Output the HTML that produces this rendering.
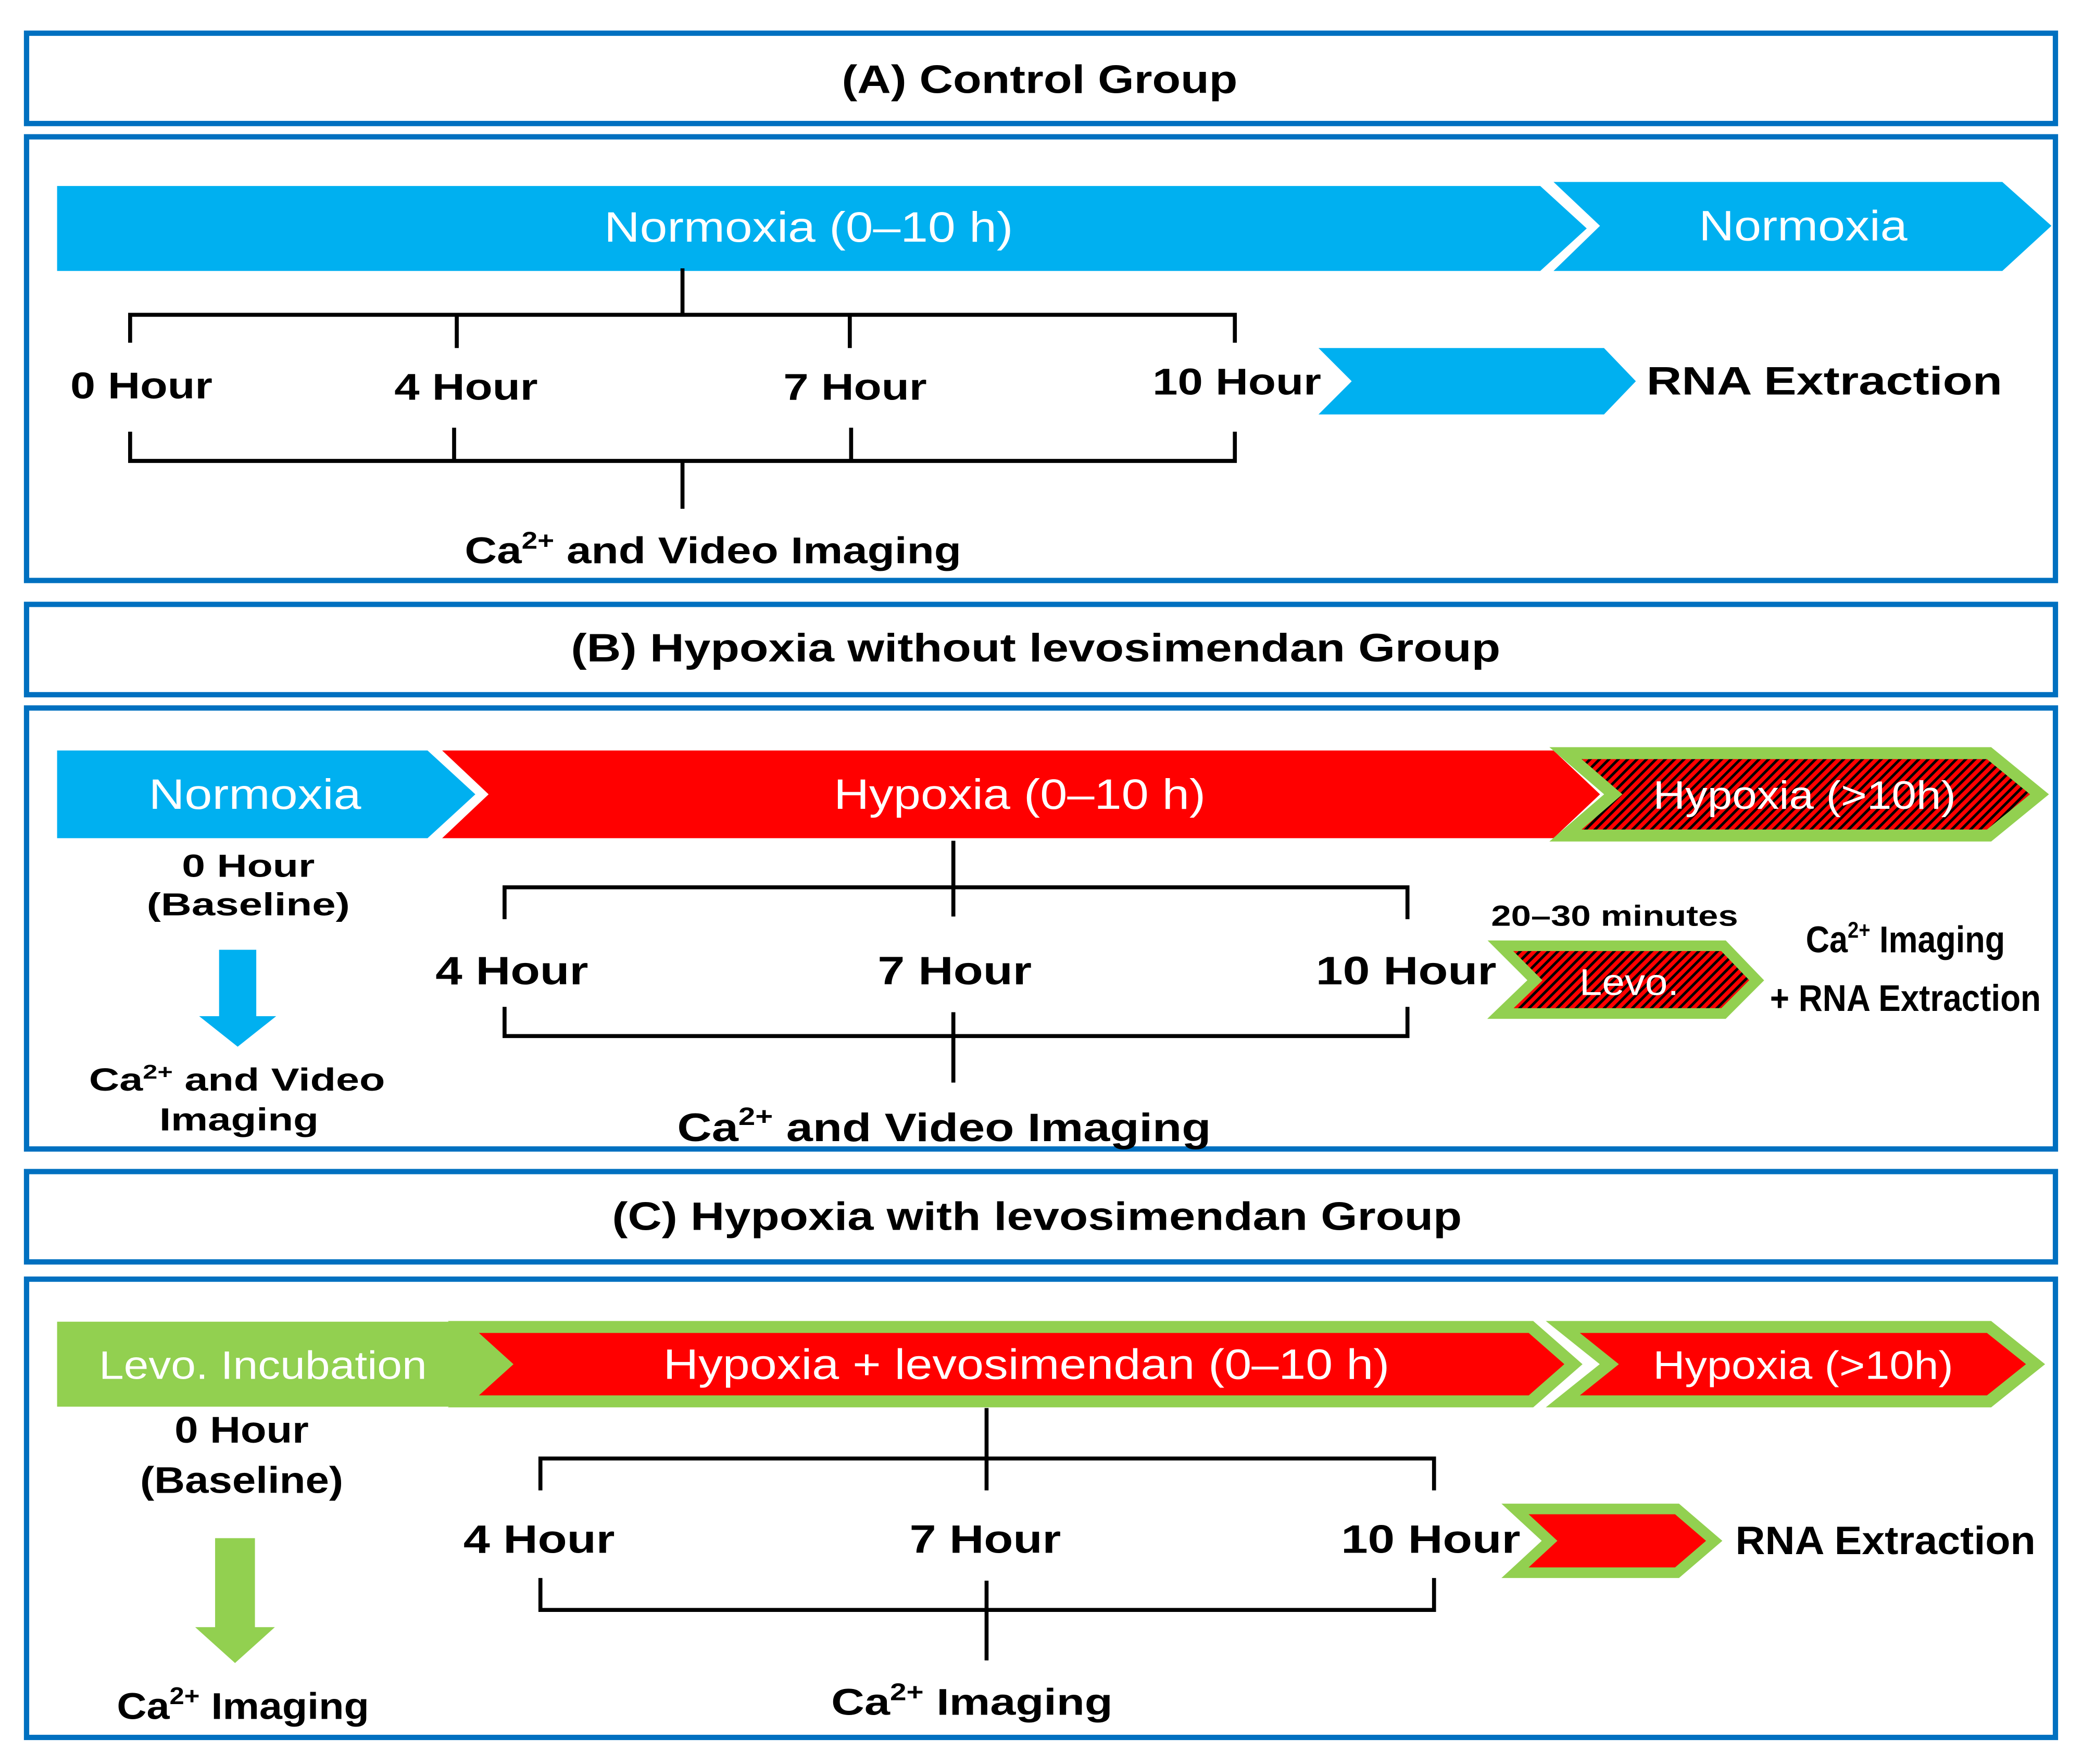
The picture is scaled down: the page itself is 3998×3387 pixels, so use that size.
<!DOCTYPE html>
<html><head><meta charset="utf-8"><style>
html,body{margin:0;padding:0;background:#fff;}
svg{display:block;}
text{font-family:"Liberation Sans",sans-serif;}
.b{font-weight:bold;fill:#000;}
.w{fill:#fff;}
</style></head><body>
<svg width="3998" height="3387" viewBox="0 0 1568 1328" preserveAspectRatio="none" xmlns="http://www.w3.org/2000/svg">
<defs>
<pattern id="h" patternUnits="userSpaceOnUse" width="5" height="5" patternTransform="rotate(45)">
<rect width="5" height="5" fill="#ff0000"/><rect width="2" height="5" fill="#000"/>
</pattern>
</defs>
<rect width="1568" height="1328" fill="#fff"/>
<g fill="none" stroke="#0070c0" stroke-width="4">
<rect x="20" y="25" width="1528" height="68"/>
<rect x="20" y="103" width="1528" height="334"/>
<rect x="20" y="455" width="1528" height="68"/>
<rect x="20" y="533" width="1528" height="332"/>
<rect x="20" y="882" width="1528" height="68"/>
<rect x="20" y="963" width="1528" height="345"/>
</g>
<!-- headers -->
<text class="b" x="783" y="70" font-size="30" text-anchor="middle" textLength="298" lengthAdjust="spacingAndGlyphs">(A) Control Group</text>
<text class="b" x="780" y="498" font-size="30" text-anchor="middle" textLength="700" lengthAdjust="spacingAndGlyphs">(B) Hypoxia without levosimendan Group</text>
<text class="b" x="781" y="926" font-size="30" text-anchor="middle" textLength="640" lengthAdjust="spacingAndGlyphs">(C) Hypoxia with levosimendan Group</text>

<!-- Panel A -->
<polygon points="43,140 1160,140 1195,172 1160,204 43,204" fill="#00b0f0"/>
<polygon points="1170,137 1508,137 1545,170 1508,204 1170,204 1205,170" fill="#00b0f0"/>
<text class="w" x="609" y="182" font-size="32" text-anchor="middle" textLength="308" lengthAdjust="spacingAndGlyphs">Normoxia (0–10 h)</text>
<text class="w" x="1358" y="181" font-size="32" text-anchor="middle" textLength="157" lengthAdjust="spacingAndGlyphs">Normoxia</text>
<g fill="none" stroke="#000" stroke-width="3">
<path d="M514,202 V237 M98,258 V237 H930 V258 M344,237 V262 M640,237 V262"/>
<path d="M98,325 V347 H930 V325 M342,322 V347 M641,322 V347 M514,347 V383"/>
</g>
<text class="b" x="53" y="300" font-size="28" textLength="107" lengthAdjust="spacingAndGlyphs">0 Hour</text>
<text class="b" x="297" y="301" font-size="28" textLength="108" lengthAdjust="spacingAndGlyphs">4 Hour</text>
<text class="b" x="590" y="301" font-size="28" textLength="108" lengthAdjust="spacingAndGlyphs">7 Hour</text>
<text class="b" x="868" y="297" font-size="28" textLength="127" lengthAdjust="spacingAndGlyphs">10 Hour</text>
<polygon points="993,262 1208,262 1232,287 1208,312 993,312 1018,287" fill="#00b0f0"/>
<text class="b" x="1240" y="297" font-size="30" textLength="268" lengthAdjust="spacingAndGlyphs">RNA Extraction</text>
<text class="b" x="350" y="424" font-size="28" textLength="374" lengthAdjust="spacingAndGlyphs">Ca<tspan font-size="18" dy="-11">2+</tspan><tspan dy="11"> and Video Imaging</tspan></text>

<!-- Panel B -->
<polygon points="43,565 322,565 358,598 322,631 43,631" fill="#00b0f0"/>
<text class="w" x="192" y="609" font-size="32" text-anchor="middle" textLength="160" lengthAdjust="spacingAndGlyphs">Normoxia</text>
<polygon points="333,565 1170,565 1205,598 1170,631 333,631 368,598" fill="#ff0000"/>
<text class="w" x="768" y="609" font-size="32" text-anchor="middle" textLength="280" lengthAdjust="spacingAndGlyphs">Hypoxia (0–10 h)</text>
<polygon points="1179,567 1498,567 1536,598 1498,629 1179,629 1215,598" fill="url(#h)" stroke="#92d050" stroke-width="9" stroke-linejoin="miter"/>
<text class="w" x="1359" y="609" font-size="30" text-anchor="middle" textLength="228" lengthAdjust="spacingAndGlyphs">Hypoxia (&gt;10h)</text>
<text class="b" x="187" y="660" font-size="24" text-anchor="middle" textLength="100" lengthAdjust="spacingAndGlyphs">0 Hour</text>
<text class="b" x="187" y="689" font-size="24" text-anchor="middle" textLength="153" lengthAdjust="spacingAndGlyphs">(Baseline)</text>
<polygon points="165,715 193,715 193,765 208,765 179,788 150,765 165,765" fill="#00b0f0"/>
<text class="b" x="67" y="821" font-size="24" textLength="223" lengthAdjust="spacingAndGlyphs">Ca<tspan font-size="15" dy="-9">2+</tspan><tspan dy="9"> and Video</tspan></text>
<text class="b" x="180" y="851" font-size="24" text-anchor="middle" textLength="120" lengthAdjust="spacingAndGlyphs">Imaging</text>
<g fill="none" stroke="#000" stroke-width="3">
<path d="M718,633 V668 M380,692 V668 H1060 V692 M718,668 V690"/>
<path d="M380,758 V780 H1060 V758 M718,762 V815"/>
</g>
<text class="b" x="328" y="741" font-size="30" textLength="115" lengthAdjust="spacingAndGlyphs">4 Hour</text>
<text class="b" x="661" y="741" font-size="30" textLength="116" lengthAdjust="spacingAndGlyphs">7 Hour</text>
<text class="b" x="991" y="741" font-size="30" textLength="136" lengthAdjust="spacingAndGlyphs">10 Hour</text>
<text class="b" x="510" y="859" font-size="30" textLength="402" lengthAdjust="spacingAndGlyphs">Ca<tspan font-size="19" dy="-12">2+</tspan><tspan dy="12"> and Video Imaging</tspan></text>
<text class="b" x="1123" y="697" font-size="22" textLength="186" lengthAdjust="spacingAndGlyphs">20–30 minutes</text>
<polygon points="1130,712 1298,712 1323,738 1298,763 1130,763 1156,738" fill="url(#h)" stroke="#92d050" stroke-width="8"/>
<text class="w" x="1227" y="749" font-size="28" text-anchor="middle" textLength="75" lengthAdjust="spacingAndGlyphs">Levo.</text>
<text class="b" x="1360" y="717" font-size="28" textLength="150" lengthAdjust="spacingAndGlyphs">Ca<tspan font-size="17" dy="-11">2+</tspan><tspan dy="11"> Imaging</tspan></text>
<text class="b" x="1333" y="761" font-size="28" textLength="204" lengthAdjust="spacingAndGlyphs">+ RNA Extraction</text>

<!-- Panel C -->
<polygon points="43,995 340,995 375,1027 340,1059 43,1059" fill="#92d050"/>
<text class="w" x="198" y="1038" font-size="30" text-anchor="middle" textLength="247" lengthAdjust="spacingAndGlyphs">Levo. Incubation</text>
<polygon points="349,999 1153,999 1185,1027 1153,1055 349,1055 380,1027" fill="#ff0000" stroke="#92d050" stroke-width="9"/>
<text class="w" x="773" y="1038" font-size="32" text-anchor="middle" textLength="547" lengthAdjust="spacingAndGlyphs">Hypoxia + levosimendan (0–10 h)</text>
<polygon points="1177,999 1498,999 1533,1027 1498,1055 1177,1055 1212,1027" fill="#ff0000" stroke="#92d050" stroke-width="9"/>
<text class="w" x="1358" y="1038" font-size="30" text-anchor="middle" textLength="226" lengthAdjust="spacingAndGlyphs">Hypoxia (&gt;10h)</text>
<text class="b" x="182" y="1086" font-size="28" text-anchor="middle" textLength="101" lengthAdjust="spacingAndGlyphs">0 Hour</text>
<text class="b" x="182" y="1124" font-size="28" text-anchor="middle" textLength="153" lengthAdjust="spacingAndGlyphs">(Baseline)</text>
<polygon points="162,1158 192,1158 192,1225 207,1225 177,1252 147,1225 162,1225" fill="#92d050"/>
<text class="b" x="88" y="1294" font-size="28" textLength="190" lengthAdjust="spacingAndGlyphs">Ca<tspan font-size="18" dy="-11">2+</tspan><tspan dy="11"> Imaging</tspan></text>
<g fill="none" stroke="#000" stroke-width="3">
<path d="M743,1060 V1098 M407,1122 V1098 H1080 V1122 M743,1098 V1122"/>
<path d="M407,1188 V1212 H1080 V1188 M743,1190 V1250"/>
</g>
<text class="b" x="349" y="1169" font-size="30" textLength="114" lengthAdjust="spacingAndGlyphs">4 Hour</text>
<text class="b" x="685" y="1169" font-size="30" textLength="114" lengthAdjust="spacingAndGlyphs">7 Hour</text>
<text class="b" x="1010" y="1169" font-size="30" textLength="135" lengthAdjust="spacingAndGlyphs">10 Hour</text>
<text class="b" x="626" y="1291" font-size="28" textLength="212" lengthAdjust="spacingAndGlyphs">Ca<tspan font-size="18" dy="-11">2+</tspan><tspan dy="11"> Imaging</tspan></text>
<polygon points="1141,1136 1263,1136 1291,1160 1263,1184 1141,1184 1167,1160" fill="#ff0000" stroke="#92d050" stroke-width="8"/>
<text class="b" x="1307" y="1170" font-size="30" textLength="226" lengthAdjust="spacingAndGlyphs">RNA Extraction</text>
</svg>
</body></html>
